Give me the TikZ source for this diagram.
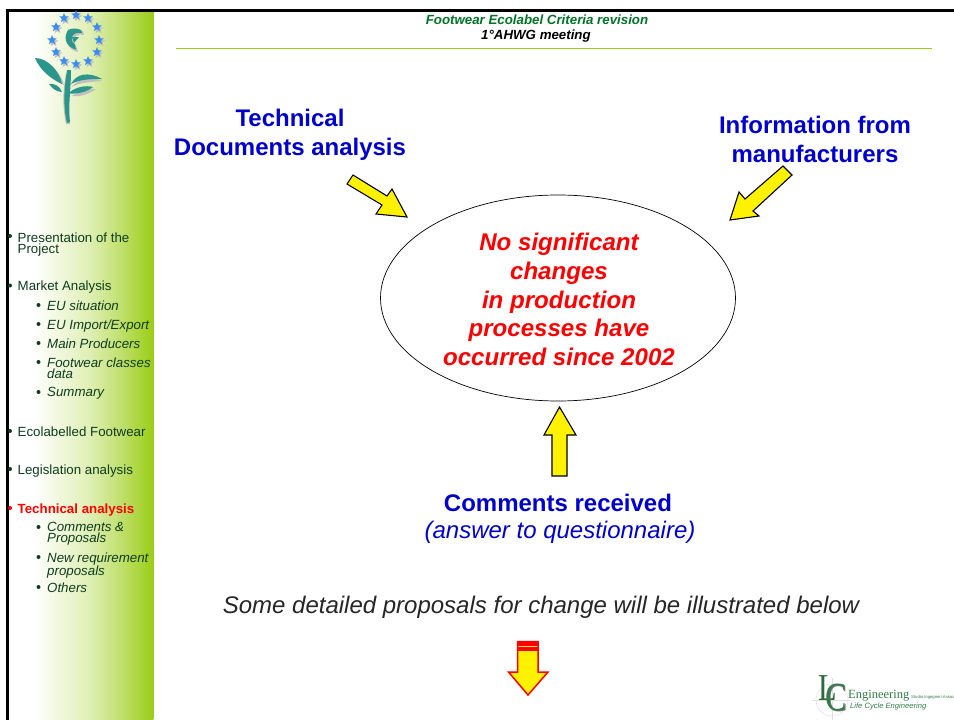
\documentclass[tikz,border=0pt]{standalone}
\usepackage{fontspec}
\setmainfont{Liberation Sans}
\newfontfamily\lcserif{Liberation Serif}
\usetikzlibrary{shapes.geometric}
\definecolor{sidegreen}{RGB}{155,205,22}
\definecolor{ruleg}{RGB}{155,205,22}
\definecolor{titleg}{RGB}{0,115,40}
\definecolor{navy}{RGB}{0,0,204}
\definecolor{tealf}{RGB}{45,150,140}
\definecolor{starb}{RGB}{60,140,240}
\definecolor{sidetext}{RGB}{15,60,30}
\definecolor{lcg}{RGB}{50,125,70}
\pgfdeclarehorizontalshading{sidefade}{100bp}{color(0bp)=(white); color(30bp)=(white); color(34bp)=(white); color(53bp)=(sidegreen!32!white); color(63.5bp)=(sidegreen!62!white); color(75bp)=(sidegreen); color(100bp)=(sidegreen)}
\tikzset{
 x=1pt,y=-1pt,
 yarrow/.style={draw=black,fill=yellow,line width=1.1pt,line join=miter},
 rarrow/.style={draw=red,fill=yellow,line width=1.5pt,line join=miter},
 headt/.style={font=\fontsize{13.3}{15}\selectfont\bfseries\itshape,text=titleg,anchor=center,align=center},
 bigt/.style={font=\fontsize{24}{29.2}\selectfont\bfseries,text=navy,anchor=center,align=center},
 side/.style={font=\fontsize{13.3}{11}\selectfont,text=sidetext,anchor=north west,align=left,inner sep=0pt},
 sub/.style={side,font=\fontsize{13.3}{11}\selectfont\itshape},
 bul/.style={circle,fill=sidetext,inner sep=0pt,minimum size=4pt},
 starm/.style={star,star points=5,star point ratio=2.3,fill=starb,draw=none,minimum size=10pt,inner sep=0pt},
 leaf/.style={fill=tealf,draw=none},
 shadowl/.style={fill=black!25,draw=none},
}
\begin{document}
\begin{tikzpicture}
\useasboundingbox (0,0) rectangle (954,720);
\fill[white] (0,0) rectangle (954,720);
% sidebar
\path[shading=sidefade] (8,11) rectangle (153.3,720);
% frame
\draw[black,line width=2.5pt] (7.3,720) -- (7.3,10.7) -- (954,10.7);
% header
\node[headt] (h1) at (537,19.5) {Footwear Ecolabel Criteria revision};
\node[headt,text=black] (h2) at (536,36) {1°AHWG meeting};
\draw[ruleg,line width=1.9pt] (176,48.5) -- (932,48.5);
% flower
\foreach \n/\a/\b in {s1/76/15,s2/64/18,s3/88/18,s4/56/27,s5/97/27,s6/52/40,s7/99/40,s8/56/52,s9/97/52,s10/64/61,s11/76/64,s12/88/61}{
 \node[starm,fill=black!25] (\n b) at (\a+1.5,\b+2) {};
 \node[starm] (\n) at (\a,\b) {};
}
\fill[shadowl] (70,32) .. controls (64,40) and (68,50) .. (78,52) -- (76,46) .. controls (72,44) and (72,40) .. (75,37) .. controls (78,34) and (81,34) .. (84,35) -- (83,31) .. controls (78,29) and (74,29) .. (70,32) -- cycle;
\fill[leaf] (68,30) .. controls (63,38) and (66,47) .. (76,49.5) -- (75,44) .. controls (71,42) and (71,38) .. (73,35) .. controls (76,32) and (79,33) .. (82,33) -- (81,30) .. controls (77,28) and (72,28) .. (68,30) -- cycle;
\fill[leaf] (72,37) -- (79,37) -- (74,43) -- cycle;
\fill[shadowl] (37,60) .. controls (50,60) and (62,75) .. (64,85) .. controls (52,80) and (42,72) .. (37,60) -- cycle;
\fill[leaf] (35,58) .. controls (48,58) and (60,72) .. (62,84) .. controls (50,78) and (40,70) .. (35,58) -- cycle;
\fill[shadowl] (66,74) .. controls (63,90) and (62,105) .. (66,124) -- (70,124) .. controls (68,105) and (69,90) .. (71,74) -- cycle;
\fill[leaf] (67,70) .. controls (64,90) and (63,105) .. (67,123) -- (70,122) .. controls (68,105) and (71,90) .. (71,70) -- cycle;
\fill[shadowl] (72,87) .. controls (78,78) and (90,76) .. (102,81) .. controls (92,82) and (80,82) .. (72,87) -- cycle;
\fill[leaf] (71,84) .. controls (76,74) and (88,71) .. (102,79) .. controls (92,79) and (80,79) .. (71,84) -- cycle;
\fill[shadowl] (72,96) .. controls (78,91) and (88,89) .. (96,89) .. controls (88,95) and (78,97) .. (72,96) -- cycle;
\fill[leaf] (70,92) .. controls (76,87) and (86,85) .. (93,87) .. controls (87,92) and (78,94) .. (70,93.5) -- cycle;
\fill[leaf] (49,84) .. controls (54,83) and (60,86) .. (62,92) .. controls (56,92) and (52,88) .. (49,84) -- cycle;
% ellipse
\node[draw=black,line width=0.7pt,ellipse,minimum width=355pt,minimum height=206pt,inner sep=0pt] (e) at (558,298) {};
\node[font=\fontsize{24.1}{28.8}\selectfont\bfseries\itshape,text=red,align=center] (et) at (559,299.5) {No significant\\changes\\in production\\processes have\\occurred since 2002};
% big labels
\node[bigt] (t1) at (290,134.5) {Technical\\Documents analysis};
\node[bigt] (t2) at (815,139.5) {Information from\\manufacturers};
\node[bigt,font=\fontsize{24}{28}\selectfont\bfseries] (t3) at (558,503) {Comments received};
\node[font=\fontsize{24}{28}\selectfont\itshape,text=navy] (t4) at (560,532.5) {(answer to questionnaire)};
\node[font=\fontsize{24}{28}\selectfont\itshape,text=black!85] (t5) at (541,607) {Some detailed proposals for change will be illustrated below};
% arrows
\draw[yarrow] (353,175) -- (387,196) -- (392,189) -- (407,217) -- (376,214) -- (382,205) -- (347,184) -- cycle;
\draw[yarrow] (783,166) -- (792,175) -- (753,211) -- (759,216) -- (730,220) -- (739,192) -- (745,199) -- cycle;
\draw[yarrow] (552,476) -- (552,435) -- (544,435) -- (559.5,407) -- (576,435) -- (567,435) -- (567,476) -- cycle;
\draw[rarrow] (517.5,641.5) -- (538,641.5) -- (538,672) -- (548,672) -- (528,695) -- (508.5,672) -- (517.5,672) -- cycle;
\fill[red] (517,641) rectangle (538.7,645.6);
\fill[red] (517,647.4) rectangle (538.7,651);
% sidebar text
\node[side] (a) at (17.5,232.5) {Presentation of the\\Project};
\node[side] (b) at (17.5,280.5) {Market Analysis};
\node[sub] (b1) at (47,300.5) {EU situation};
\node[sub] (b2) at (47,319.5) {EU Import/Export};
\node[sub] (b3) at (47,338.5) {Main Producers};
\node[sub] (b4) at (47,357.5) {Footwear classes\\data};
\node[sub] (b5) at (47,387.5) {Summary};
\node[side] (c) at (17.5,426.5) {Ecolabelled Footwear};
\node[side] (d) at (17.5,464.5) {Legislation analysis};
\node[side,font=\fontsize{13.3}{11}\selectfont\bfseries,text=red] (f) at (17.5,503.5) {Technical analysis};
\node[sub] (f1) at (47,522.5) {Comments \&\\Proposals};
\node[sub] (f2) at (47,552.5) {New requirement\\proposals};
\node[sub] (f3) at (47,582.5) {Others};
\foreach \p/\q in {10/236,10/285.5,10/431,10/469}{\node[bul] at (\p,\q) {};}
\node[bul,fill=red] at (10,508) {};
\foreach \q in {305,324,343,362,392,527,557,587}{\node[bul] at (38.5,\q) {};}
% LC logo
\draw[black!12,line width=0.5pt] (812,700) -- (850,700) (832,678) -- (832,720);
\draw[black!12,line width=0.5pt] (832,700) circle (16);
\node[font=\lcserif\fontsize{38}{38}\selectfont,text=lcg!85!black,inner sep=0pt,xscale=.8] (l) at (827.5,688) {L};
\node[font=\lcserif\fontsize{40}{40}\selectfont,text=black!55,inner sep=0pt,xscale=.8] (cs) at (837.5,698) {C};
\node[font=\lcserif\fontsize{40}{40}\selectfont,text=lcg,inner sep=0pt,xscale=.8] (cc) at (836.5,697) {C};
\node[font=\lcserif\fontsize{12.5}{13}\selectfont,text=lcg,inner sep=0pt,anchor=west] (eng) at (848,696) {Engineering};
\node[font=\fontsize{4.2}{5}\selectfont,text=lcg,inner sep=0pt,anchor=west] (st) at (911,697.5) {Studio Ingegneri Assoc};
\node[font=\fontsize{7.6}{9}\selectfont\itshape,text=lcg,inner sep=0pt,anchor=west] (lce) at (850,707) {Life Cycle Engineering};
\end{tikzpicture}
\end{document}
